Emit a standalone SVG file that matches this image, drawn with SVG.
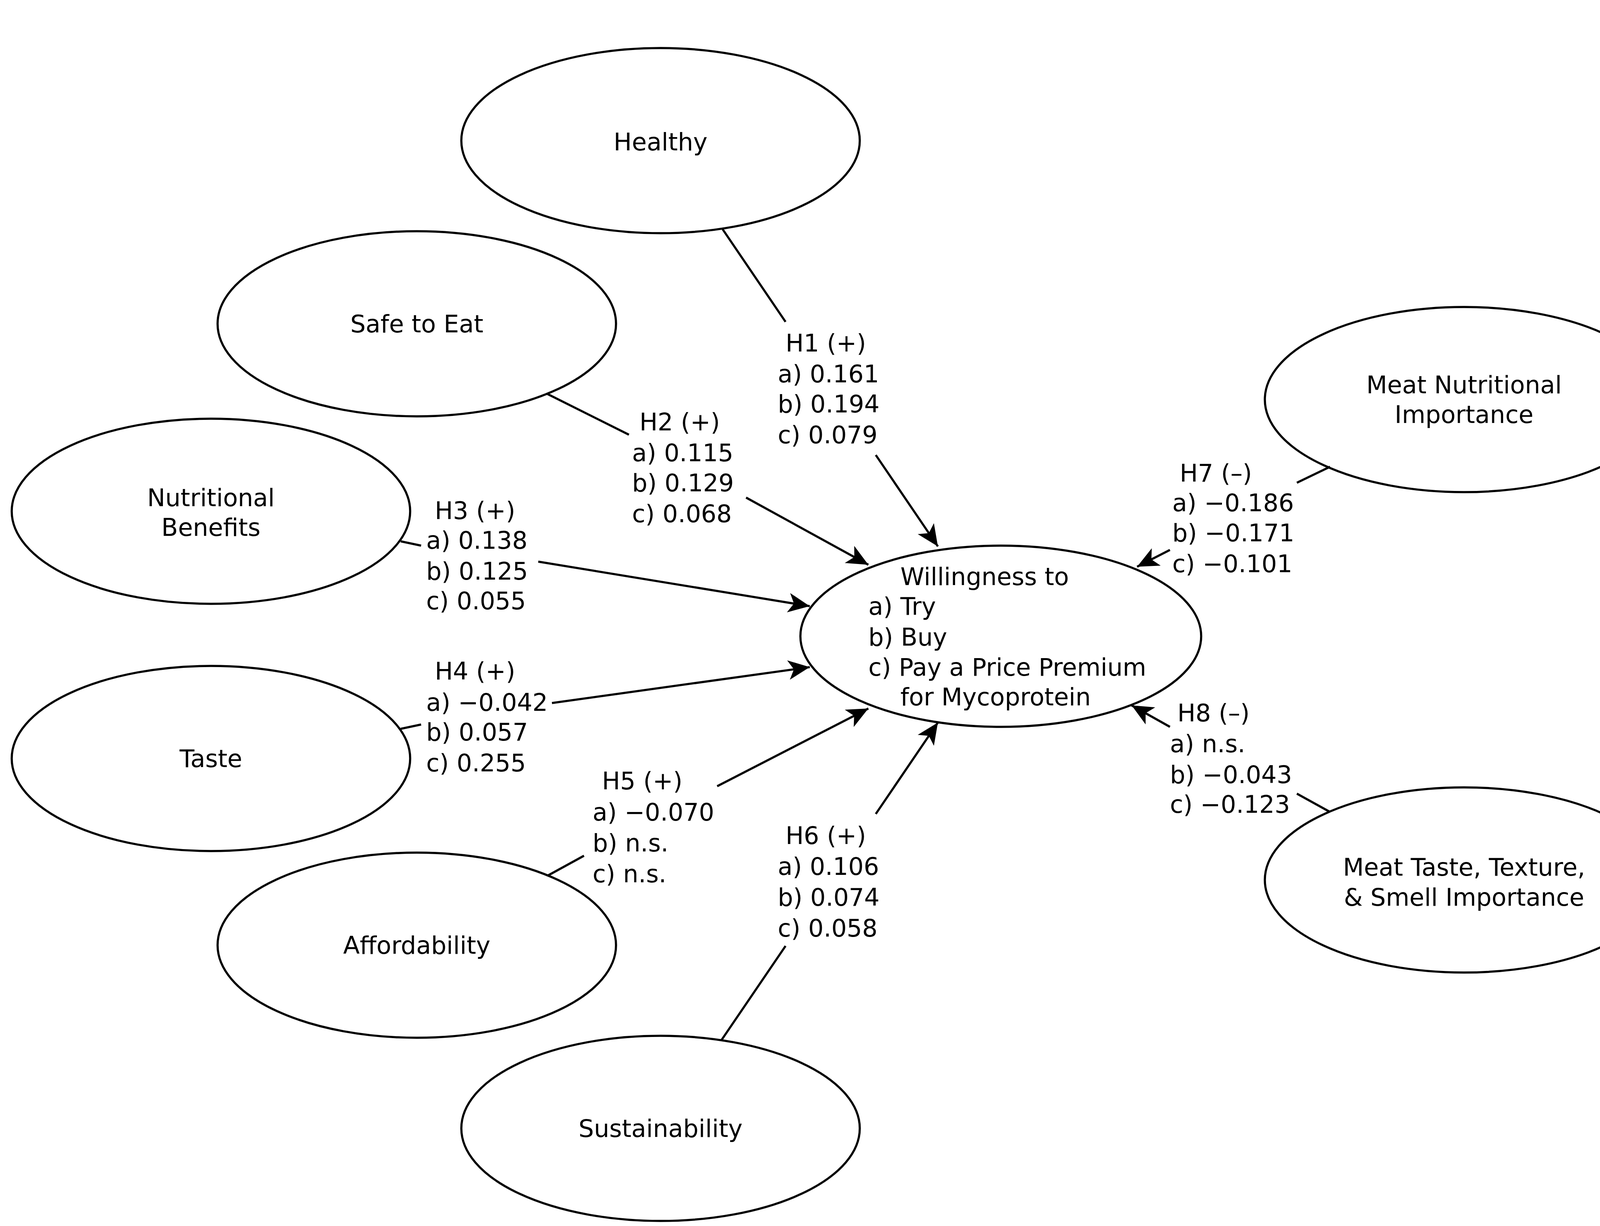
<svg xmlns="http://www.w3.org/2000/svg" width="4277" height="3139" viewBox="0 0 4277 3139">
<style>
text{font-family:"DejaVu Sans","Noto Sans",sans-serif;font-size:62px;fill:#000}
.n{text-anchor:middle}
ellipse{fill:#fff;stroke:#000;stroke-width:5.5}
line{stroke:#000;stroke-width:5.5}
</style>
<defs>
<marker id="a" markerUnits="userSpaceOnUse" markerWidth="60" markerHeight="50" refX="55" refY="25" orient="auto">
<path d="M0,0 L55,25 L0,50 L14,25 Z" fill="#000"/>
</marker>
</defs>
<rect width="4277" height="3139" fill="#fff"/>
<g id="healthy"><ellipse cx="1691" cy="360" rx="510" ry="237"/><text class="n" x="1691" y="385">Healthy</text></g>
<g id="safe"><ellipse cx="1067" cy="829" rx="510" ry="237"/><text class="n" x="1067" y="851">Safe to Eat</text></g>
<g id="nutritional"><ellipse cx="540" cy="1309" rx="510" ry="237"/><text class="n" x="540" y="1296">Nutritional</text><text class="n" x="540" y="1372">Benefits</text></g>
<g id="taste"><ellipse cx="540" cy="1942" rx="510" ry="237"/><text class="n" x="540" y="1964">Taste</text></g>
<g id="affordability"><ellipse cx="1067" cy="2420" rx="510" ry="237"/><text class="n" x="1067" y="2442">Affordability</text></g>
<g id="sustainability"><ellipse cx="1691" cy="2889" rx="510" ry="237"/><text class="n" x="1691" y="2911">Sustainability</text></g>
<g id="meatnut"><ellipse cx="3748" cy="1023" rx="510" ry="237"/><text class="n" x="3748" y="1007">Meat Nutritional</text><text class="n" x="3748" y="1083">Importance</text></g>
<g id="meattaste"><ellipse cx="3748" cy="2253" rx="510" ry="237"/><text class="n" x="3748" y="2242">Meat Taste, Texture,</text><text class="n" x="3748" y="2319">&amp; Smell Importance</text></g>
<g id="willingness"><ellipse cx="2562" cy="1629" rx="513" ry="232"/>
<text x="2305" y="1498">Willingness to</text><text x="2223" y="1574">a) Try</text><text x="2223" y="1653">b) Buy</text><text x="2223" y="1730">c) Pay a Price Premium</text><text x="2305" y="1806">for Mycoprotein</text></g>
<g id="connectors">
<line x1="1850" y1="587" x2="2011" y2="824"/><line x1="2242" y1="1165" x2="2401" y2="1399" marker-end="url(#a)"/>
<line x1="1402" y1="1009" x2="1610" y2="1113"/><line x1="1910" y1="1274" x2="2223" y2="1446" marker-end="url(#a)"/>
<line x1="1026" y1="1386" x2="1078" y2="1397"/><line x1="1378" y1="1438" x2="2073" y2="1552" marker-end="url(#a)"/>
<line x1="1026" y1="1866" x2="1078" y2="1855"/><line x1="1413" y1="1800" x2="2073" y2="1708" marker-end="url(#a)"/>
<line x1="1402" y1="2242" x2="1495" y2="2191"/><line x1="1836" y1="2013" x2="2223" y2="1814" marker-end="url(#a)"/>
<line x1="1847" y1="2663" x2="2011" y2="2422"/><line x1="2242" y1="2084" x2="2401" y2="1850" marker-end="url(#a)"/>
<line x1="3405" y1="1195" x2="3320" y2="1236"/><line x1="2995" y1="1408" x2="2911" y2="1451" marker-end="url(#a)"/>
<line x1="3405" y1="2079" x2="3320" y2="2032"/><line x1="2995" y1="1861" x2="2897" y2="1806" marker-end="url(#a)"/>
</g>
<g id="labels">
<text x="2011" y="900">H1 (+)</text><text x="1991" y="979">a) 0.161</text><text x="1991" y="1056">b) 0.194</text><text x="1991" y="1135">c) 0.079</text>
<text x="1637" y="1102">H2 (+)</text><text x="1618" y="1181">a) 0.115</text><text x="1618" y="1258">b) 0.129</text><text x="1618" y="1337">c) 0.068</text>
<text x="1113" y="1329">H3 (+)</text><text x="1091" y="1405">a) 0.138</text><text x="1091" y="1484">b) 0.125</text><text x="1091" y="1560">c) 0.055</text>
<text x="1113" y="1740">H4 (+)</text><text x="1091" y="1820">a) −0.042</text><text x="1091" y="1896">b) 0.057</text><text x="1091" y="1975">c) 0.255</text>
<text x="1541" y="2021">H5 (+)</text><text x="1517" y="2101">a) −0.070</text><text x="1517" y="2180">b) n.s.</text><text x="1517" y="2259">c) n.s.</text>
<text x="2011" y="2161">H6 (+)</text><text x="1991" y="2240">a) 0.106</text><text x="1991" y="2319">b) 0.074</text><text x="1991" y="2398">c) 0.058</text>
<text x="3020" y="1233">H7 (–)</text><text x="3001" y="1309">a) −0.186</text><text x="3001" y="1386">b) −0.171</text><text x="3001" y="1465">c) −0.101</text>
<text x="3014" y="1847">H8 (–)</text><text x="2995" y="1926">a) n.s.</text><text x="2995" y="2005">b) −0.043</text><text x="2995" y="2081">c) −0.123</text>
</g>
</svg>
